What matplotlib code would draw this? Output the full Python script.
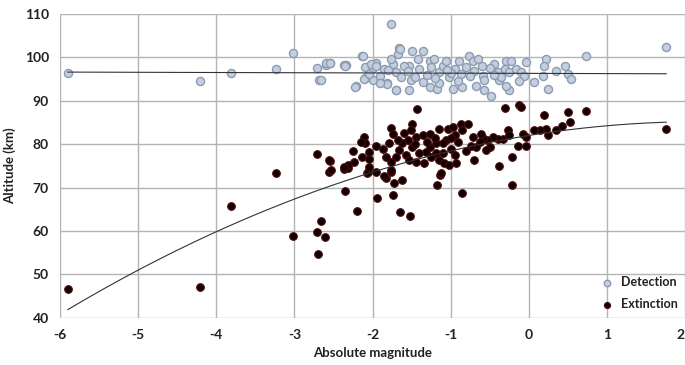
import numpy as np
import matplotlib
matplotlib.use("Agg")
import matplotlib.pyplot as plt

plt.rcParams['font.family'] = ['Lato', 'DejaVu Sans']
plt.rcParams['axes.unicode_minus'] = False

# Detection altitudes (km) vs absolute magnitude
det_mag = [-5.90, -4.21, -3.81, -3.23, -3.02, -2.71, -2.69, -2.66, -2.60, -2.54,
           -2.34, -2.59, -2.55, -2.36, -2.13, -2.21, -2.07, -2.00, -1.95, -2.10,
           -2.00, -1.81, -1.70, -1.66, -1.76, -2.12, -2.35, -2.09, -2.02, -1.96,
           -2.11, -2.22, -2.04, -1.91, -1.85, -1.74, -1.68, -1.65, -1.76, -1.70,
           -1.64, -1.70, -1.81, -1.49, -1.35, -1.42, -1.53, -1.40, -1.51, -1.53,
           -1.36, -1.27, -1.21, -1.27, -1.17, -1.15, -1.10, -1.06, -1.02, -0.95,
           -0.89, -0.87, -0.97, -0.85, -0.76, -0.72, -0.65, -0.70, -0.59, -0.57,
           -0.68, -0.57, -0.48, -0.44, -0.40, -0.38, -0.29, -0.23, -0.31, -0.25,
           -0.16, -0.10, -0.03, -0.06, -0.25, -0.29, 0.07, 0.22, 0.20, 0.18,
           0.24, 0.35, 0.46, 0.50, 0.54, 0.73, 1.76, -1.80, -1.60, -1.30,
           -1.25, -1.00, -0.90, -0.80, -0.50, -0.60, -1.90, -1.45, -1.15, -0.35,
           -0.12, -1.55, -1.20, -0.75, -0.45, -1.05]
det_alt = [96.5, 94.5, 96.5, 97.3, 100.9, 97.5, 94.8, 94.8, 98.2, 98.6,
           98.2, 98.7, 98.7, 98.2, 100.3, 93.4, 97.8, 97.6, 98.7, 95.3,
           94.8, 94.1, 92.5, 102.2, 107.7, 100.3, 98.1, 97.7, 98.5, 98.1,
           95.0, 93.1, 96.2, 95.8, 97.3, 98.5, 100.8, 101.9, 99.6, 96.6,
           95.4, 92.4, 93.9, 101.4, 101.4, 99.6, 98.1, 97.3, 94.7, 92.4,
           94.3, 99.2, 99.6, 93.1, 92.7, 96.6, 98.1, 99.2, 95.4, 97.3,
           99.2, 96.2, 92.7, 93.1, 100.4, 99.2, 99.6, 96.9, 95.8, 94.7,
           93.3, 92.4, 91.0, 98.5, 96.6, 94.7, 99.2, 99.2, 97.3, 96.6,
           97.3, 96.6, 98.9, 95.8, 92.4, 93.5, 94.3, 99.6, 98.1, 95.8,
           92.7, 96.9, 98.1, 96.2, 95.0, 100.2, 102.3, 97.0, 98.0, 96.0,
           97.8, 96.5, 94.5, 97.8, 97.5, 98.0, 94.0, 95.5, 94.0, 95.5,
           94.5, 96.8, 95.2, 95.6, 96.0, 97.0]

# Extinction altitudes (km) vs absolute magnitude
ext_mag = [-5.90, -4.21, -3.81, -3.23, -3.02, -2.71, -2.66, -2.61, -2.70, -2.71,
           -2.54, -2.56, -2.36, -2.32, -2.35, -2.20, -1.94, -1.74, -1.65, -1.52,
           -1.83, -1.73, -1.62, -1.17, -1.13, -0.85, -0.21, -2.07, -1.96, -1.76,
           -1.43, -0.31, -0.12, -0.10, 0.20, 0.50, 0.73, 0.53, 1.76, 0.43,
           0.35, 0.24, 0.22, 0.15, 0.07, -0.03, -0.14, -0.03, -0.08, -0.21,
           -0.38, -2.11, -2.09, -1.96, -2.04, -2.13, -2.24, -2.32, -2.36, -2.56,
           -2.53, -1.76, -1.74, -1.49, -1.51, -1.44, -1.36, -1.27, -1.15, -1.04,
           -0.97, -0.87, -0.78, -0.85, -0.95, -1.06, -1.10, -1.19, -1.27, -1.32,
           -1.40, -1.49, -1.62, -1.66, -1.70, -1.76, -1.83, -1.87, -1.79, -1.68,
           -1.57, -1.53, -1.44, -1.34, -1.19, -1.15, -1.08, -1.02, -0.93, -1.12,
           -1.76, -1.85, -2.06, -2.04, -0.27, -0.25, -0.33, -0.40, -0.46, -0.53,
           -0.59, -0.63, -0.68, -0.72, -0.74, -0.50, -0.55, -0.70, -0.61, -2.25,
           -2.15, -2.05, -1.30, -1.20, -1.00, -0.90, -0.80, -1.45, -1.60, -1.10,
           -0.95, -1.25, -1.55, -1.00]
ext_alt = [46.7, 47.2, 65.8, 73.3, 58.9, 59.8, 62.4, 58.6, 54.8, 77.7,
           76.2, 73.6, 74.2, 74.6, 69.3, 64.7, 67.6, 68.2, 64.4, 63.4,
           72.3, 71.1, 71.8, 70.6, 72.8, 68.7, 70.6, 73.4, 73.7, 73.7,
           88.0, 88.3, 89.1, 88.6, 86.8, 87.3, 87.7, 85.1, 83.6, 84.1,
           83.3, 82.2, 83.6, 83.3, 83.3, 79.5, 79.5, 81.7, 82.4, 77.1,
           75.0, 81.7, 80.2, 79.5, 78.3, 77.1, 76.0, 75.2, 74.8, 76.4,
           74.1, 83.8, 82.4, 84.7, 83.2, 81.7, 82.0, 82.4, 83.6, 83.6,
           83.9, 84.7, 84.7, 83.2, 82.0, 80.9, 80.2, 80.2, 79.4, 78.3,
           77.9, 79.4, 80.2, 78.6, 77.1, 76.0, 77.1, 79.0, 80.2, 80.9,
           77.5, 76.4, 75.8, 75.6, 77.9, 76.4, 75.6, 75.2, 75.6, 73.3,
           74.1, 72.6, 73.7, 74.8, 83.2, 82.0, 81.3, 81.1, 81.7, 80.9,
           81.5, 80.5, 79.4, 81.7, 79.5, 79.4, 78.6, 76.4, 82.4, 78.5,
           80.5, 76.5, 80.5, 81.5, 79.0, 80.5, 78.5, 80.0, 82.5, 78.0,
           77.5, 77.0, 81.0, 81.5]

# trend lines (Excel style): linear for detection, quadratic for extinction
det_trend = [-0.05, 96.3]
ext_trend = [-0.66, 2.9, 82.0]

fig = plt.figure(figsize=(6.85, 3.65), dpi=100)
ax = fig.add_axes([0.0876, 0.129, 0.9124, 0.833])

ax.scatter(det_mag, det_alt, s=34, facecolor='#c3cfe0', edgecolor='#8d9bb0',
           linewidth=1.0, zorder=3, label='Detection')
ax.scatter(ext_mag, ext_alt, s=30, facecolor='#120000', edgecolor='#4a0a0a',
           linewidth=0.8, zorder=4, label='Extinction')

xs = np.linspace(min(ext_mag), max(ext_mag), 200)
ax.plot(xs, np.polyval(det_trend, xs), color='#333333', lw=0.8, zorder=5)
ax.plot(xs, np.polyval(ext_trend, xs), color='#333333', lw=0.8, zorder=5)

ax.set_xlim(-6, 2)
ax.set_ylim(40, 110)
ax.set_xticks(range(-6, 3))
ax.set_yticks(range(40, 111, 10))
ax.grid(True, color='#b4b4b4', lw=1.0)
ax.set_axisbelow(True)
for s in ax.spines.values():
    s.set_visible(False)
ax.tick_params(length=0, labelsize=10, pad=8)
for lab in ax.get_xticklabels() + ax.get_yticklabels():
    lab.set_fontweight('bold')
    lab.set_color('#222222')
ax.get_xticklabels()[-1].set_horizontalalignment('right')

ax.set_xlabel('Absolute magnitude', fontsize=9.5, fontweight='bold', color='#222222', labelpad=4)
ax.set_ylabel('Altitude (km)', fontsize=9.5, fontweight='bold', color='#222222', labelpad=6)

leg = ax.legend(loc='lower right', frameon=False, fontsize=9, handletextpad=0.1,
                markerscale=0.8, borderaxespad=0.2, labelspacing=0.8)
for t in leg.get_texts():
    t.set_fontweight('bold')
    t.set_color('#222222')

fig.savefig('out.png', dpi=100)
